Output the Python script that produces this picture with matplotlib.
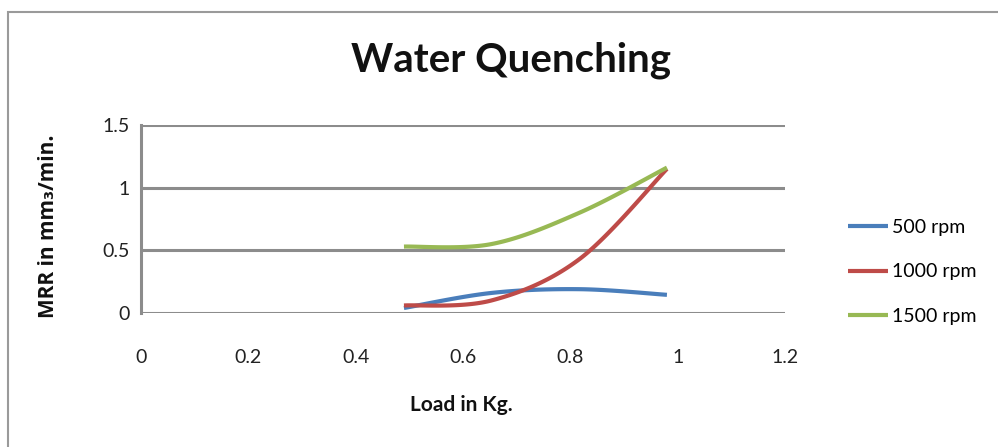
import numpy as np
import matplotlib
matplotlib.use("Agg")
import matplotlib.pyplot as plt
from matplotlib.patches import Rectangle

# data
load = [0.49, 0.653, 0.817, 0.98]
mrr_500 = [0.04, 0.16, 0.19, 0.145]
mrr_1000 = [0.06, 0.10, 0.43, 1.15]
mrr_1500 = [0.53, 0.55, 0.80, 1.16]
labels = ["500 rpm", "1000 rpm", "1500 rpm"]
colors = ["#4A7EBB", "#BE4B48", "#98B954"]
xticks = [0, 0.2, 0.4, 0.6, 0.8, 1, 1.2]
xticklabels = ["0", "0.2", "0.4", "0.6", "0.8", "1", "1.2"]
yticks = [0, 0.5, 1, 1.5]
yticklabels = ["0", "0.5", "1", "1.5"]


def smooth(xs, ys, n=40):
    # excel-like smoothed line (catmull-rom through the points)
    p = np.column_stack([xs, ys])
    p = np.vstack([p[0], p, p[-1]])
    out = []
    for i in range(1, len(p) - 2):
        p0, p1, p2, p3 = p[i - 1], p[i], p[i + 1], p[i + 2]
        c1 = p1 + (p2 - p0) / 6
        c2 = p2 - (p3 - p1) / 6
        t = np.linspace(0, 1, n)[:, None]
        seg = (1 - t) ** 3 * p1 + 3 * (1 - t) ** 2 * t * c1 + 3 * (1 - t) * t ** 2 * c2 + t ** 3 * p2
        out.append(seg if i == 1 else seg[1:])
    out = np.vstack(out)
    return out[:, 0], out[:, 1]


plt.rcParams['font.family'] = ['Lato', 'DejaVu Sans']
fig = plt.figure(figsize=(9.98, 4.47), dpi=100)
fig.patches.append(Rectangle((8 / 998, -0.1), 1.1, (447 - 12) / 447 + 0.1, transform=fig.transFigure,
                             fill=False, edgecolor="#9a9a9a", linewidth=1.5))

ax = fig.add_axes([141 / 998, (447 - 313) / 447, 644 / 998, 188 / 447])
grid_c = "#8c8c8c"
for s in ["top", "right", "bottom"]:
    ax.spines[s].set_visible(False)
ax.spines["left"].set_color(grid_c)
ax.spines["left"].set_linewidth(2.2)

for v in yticks:
    ax.axhline(v, color=grid_c, linewidth=2.2, zorder=1)

for ys, lab, c in zip([mrr_500, mrr_1000, mrr_1500], labels, colors):
    sx, sy = smooth(load, ys)
    ax.plot(sx, sy, color=c, linewidth=3, label=lab, zorder=3, solid_capstyle="butt")

ax.set_xlim(0, 1.2)
ax.set_ylim(0, 1.5)
ax.set_xticks(xticks)
ax.set_xticklabels(xticklabels)
ax.set_yticks(yticks)
ax.set_yticklabels(yticklabels)
ax.tick_params(axis="x", length=0, pad=26, labelsize=14, colors="#222222")
ax.tick_params(axis="y", length=0, pad=8, labelsize=14, colors="#222222")

fig.text(511 / 998, 1 - 60 / 447, "Water Quenching", ha="center", va="center",
         fontsize=29, fontweight="bold", color="#111111")
fig.text(461 / 998, 1 - 405 / 447, "Load in Kg.", ha="center", va="center",
         fontsize=15, fontweight="bold", color="#111111")
fig.text(49 / 998, 1 - 226 / 447, "MRR in mm\u2083/min.", ha="center", va="center", rotation=90,
         fontsize=15, fontweight="bold", color="#111111", family=['Open Sans', 'DejaVu Sans'])

ax.legend(loc="center left", bbox_to_anchor=(689 / 644, 41 / 188), frameon=False,
          fontsize=14, handlelength=2.1, handletextpad=0.2, labelspacing=1.4)

fig.savefig("out.png", dpi=100)
